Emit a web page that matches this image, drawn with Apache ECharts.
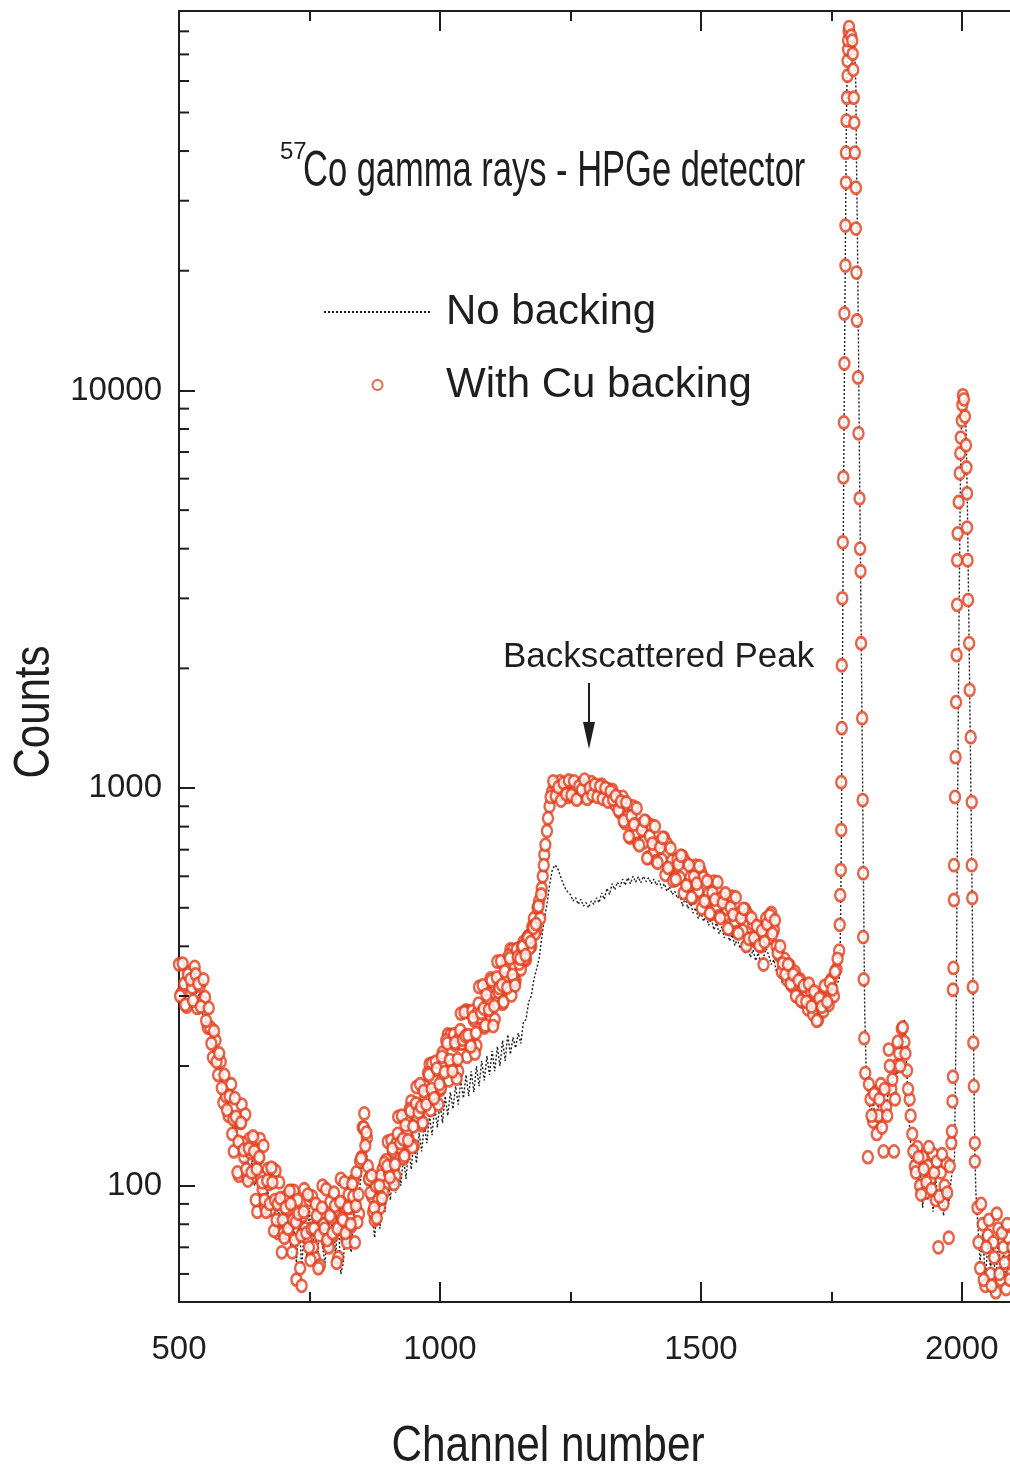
<!DOCTYPE html>
<html><head><meta charset="utf-8">
<script src="https://cdn.jsdelivr.net/npm/echarts@6/dist/echarts.min.js"></script>
<style>html,body{margin:0;padding:0;background:#fff}#chart{width:1010px;height:1472px}</style>
</head><body><div id="chart"></div>
<script>
// ---------- DATA ----------
// "With Cu backing" (red circles), continuum, channels 500..1765 every 5 channels
const cuLowStart = 500;
const cuLow = [
  360, 305, 322, 282, 345, 315, 355, 280, 318, 290,
  298, 250, 250, 210, 232, 190, 205, 162, 168, 150,
  180, 122, 145, 106, 160, 118, 106, 131, 105, 131,
  86, 131, 98, 88, 110, 87, 110, 109, 76, 91,
  76, 94, 76, 97, 97, 58, 83, 56, 98, 74,
  92, 94, 66, 83, 63, 100, 76, 71, 91, 75,
  86, 66, 104, 80, 74, 95, 79, 103, 108, 85,
  118, 152, 132, 104, 94, 82, 100, 88, 110, 100,
  129, 109, 122, 106, 149, 125, 117, 146, 131, 163,
  126, 177, 150, 142, 178, 162, 202, 203, 171, 195,
  174, 216, 195, 240, 239, 201, 226, 194, 271, 228,
  276, 274, 230, 261, 225, 316, 267, 250, 311, 279,
  306, 262, 366, 307, 287, 354, 318, 393, 392, 328,
  395, 350, 410, 370, 425, 400, 470, 440, 520, 560,
  680, 780, 900, 980, 1020, 960, 1040, 975, 1010, 950,
  1030, 965, 1000, 945, 1025, 980, 1010, 950, 1035, 970,
  1005, 960, 1020, 975, 995, 940, 990, 910, 930, 870,
  950, 817, 848, 751, 899, 771, 725, 809, 730, 823,
  669, 805, 694, 656, 730, 660, 748, 724, 627, 657,
  595, 662, 595, 673, 653, 568, 596, 530, 638, 551,
  616, 596, 518, 543, 482, 582, 502, 476, 530, 478,
  497, 442, 533, 460, 435, 485, 438, 495, 481, 418,
  455, 412, 445, 400, 360, 470, 420, 485, 440, 400,
  380, 345, 372, 330, 358, 318, 345, 300, 330, 290,
  318, 278, 310, 270, 302, 262, 300, 275, 315, 285,
  330, 300, 350, 390
];
// second set of red circles in the continuum, channels 502..1762 every 5
const cuLowBStart = 502;
const cuLowB = [
  300, 362, 285, 340, 330, 292, 340, 322, 282, 330,
  260, 280, 228, 245, 205, 215, 176, 190, 155, 168,
  135, 166, 108, 144, 128, 151, 103, 121, 133, 92,
  117, 105, 126, 86, 101, 111, 77, 82, 102, 68,
  74, 87, 97, 68, 73, 92, 62, 84, 78, 95,
  65, 70, 90, 62, 85, 80, 98, 70, 83, 96,
  64, 90, 83, 102, 72, 88, 101, 72, 81, 115,
  140, 126, 112, 96, 86, 100, 92, 106, 96, 116,
  108, 130, 101, 128, 125, 150, 119, 136, 156, 125,
  152, 149, 180, 144, 167, 192, 155, 170, 205, 160,
  176, 202, 232, 184, 200, 240, 186, 235, 228, 273,
  211, 230, 275, 215, 272, 265, 319, 253, 291, 332,
  252, 317, 307, 367, 290, 331, 379, 301, 329, 393,
  362, 398, 372, 420, 396, 448, 430, 500, 470, 600,
  720, 840, 950, 1040, 955, 1005, 930, 1030, 965, 1045,
  960, 1040, 935, 1010, 990, 1050, 940, 1000, 960, 1020,
  950, 1010, 940, 1000, 925, 980, 935, 955, 880, 925,
  827, 920, 756, 850, 810, 890, 718, 785, 828, 666,
  757, 725, 801, 649, 709, 750, 605, 630, 706, 585,
  589, 643, 676, 545, 569, 640, 531, 599, 575, 636,
  498, 519, 583, 484, 546, 524, 580, 471, 515, 543,
  443, 501, 480, 531, 431, 471, 497, 401, 418, 471,
  420, 450, 402, 438, 410, 455, 478, 430, 465, 385,
  400, 362, 340, 360, 322, 340, 300, 328, 292, 318,
  290, 322, 282, 308, 260, 296, 282, 318, 290, 325,
  312, 345, 372
];
// third set of red circles where the cloud is densest, channels 604..1199 every 5
const cuLowCStart = 604;
const cuLowC = [
  147, 149, 129, 144, 123, 110, 124, 108, 122, 110,
  118, 102, 92, 103, 90, 102, 92, 90, 93, 82,
  88, 78, 90, 82, 81, 85, 75, 86, 76, 70,
  78, 78, 84, 75, 88, 78, 73, 84, 76, 89,
  78, 91, 82, 76, 88, 80, 94, 89, 95, 117,
  140, 136, 104, 106, 88, 83, 100, 93, 114, 112,
  105, 124, 113, 135, 128, 131, 142, 130, 154, 141,
  161, 153, 158, 173, 160, 190, 175, 166, 197, 180,
  211, 193, 228, 207, 194, 229, 208, 246, 233, 238,
  239, 224, 265, 242, 287, 272, 279, 302, 277, 328,
  283, 334, 314, 320, 346, 315, 373, 339, 319, 376,
  372, 400, 380, 420, 410, 445, 455, 505, 540, 640
];
// first photopeak, red circles
const cuPeak1Ch = [1766,1767,1768,1769,1769,1770,1770,1771,1772,1773,1774,1775,1775,1777,1777,1778,1778,1779,1780,1781,1781,1782,1782,1783,1784,
  1788,1790,1791,1792,1793,1794,1795,1797,1797,1798,1799,1801,1802,1804,1805,1806,1807,1809,1810,1811,1811,1812,1813,1815];
const cuPeak1 = [453,538,622,784,1035,1415,2037,3000,4150,6045,8310,11690,15610,20610,25980,33320,39630,47700,54460,61860,67450,72000,76000,80000,82000,
  78000,75800,70270,64000,54460,47140,39630,32360,25530,19790,14990,10780,7800,5353,4000,3510,2313,1499,933,611,422,330,235,192];
// between the two peaks
const cuMidStart = 1820;
const cuMid = [118, 165, 145, 172, 150, 180, 122, 158, 220, 175, 122, 200, 215, 248, 230, 195, 165,
  135, 112, 125, 100, 118, 96, 112, 104, 120, 92, 70, 108, 90, 114, 74, 128];
const cuMidBStart = 1822;
const cuMidB = [180, 150, 170, 135, 165, 140, 175, 150, 200, 185, 165, 230, 200, 250, 215, 175,
  150, 122, 108, 118, 95, 110, 102, 125, 98, 108, 115, 94, 120, 100, 96, 112];
// second photopeak, red circles
const cuPeak2Ch = [1981,1982,1983,1983,1984,1985,1985,1987,1988,1989,1990,1991,1991,1992,1994,1996,1997,1998,2000,2001,2002,
  2004,2006,2008,2009,2010,2010,2011,2012,2014,2015,2017,2019,2019,2020,2021,2022,2023,2025,2025];
const cuPeak2 = [137,163,188,311,353,523,640,950,1196,1645,2160,2890,3740,4370,5240,6190,6950,7610,8400,9200,9720,
  9500,8600,7280,6400,5510,4520,3740,2970,2314,1764,1343,922,640,529,316,229,178,128,115];
// after the second peak
const cuHighStart = 2030;
const cuHigh = [88, 62, 80, 56, 75, 60, 72, 54, 78, 58, 70, 55, 74, 60, 66];
const cuHighBStart = 2032;
const cuHighB = [72, 90, 58, 70, 82, 56, 66, 85, 60, 76, 64, 80, 58, 70];

// "No backing" (black dotted line)
const nbLowStart = 500;
const nbLow = [
  310, 330, 295, 340, 320, 300, 335, 290, 310, 270,
  270, 245, 250, 215, 220, 190, 192, 165, 170, 148,
  150, 132, 140, 122, 130, 112, 122, 104, 116, 100,
  108, 94, 104, 88, 98, 84, 94, 80, 90, 76,
  86, 72, 82, 68, 80, 64, 84, 62, 78, 66,
  88, 66, 80, 62, 86, 70, 64, 82, 70, 88,
  66, 84, 60, 64, 86, 74, 68, 88, 80, 94,
  110, 138, 118, 96, 84, 74, 92, 78, 96, 86,
  105, 92, 110, 96, 114, 100, 118, 104, 124, 110,
  130, 114, 136, 122, 142, 128, 150, 134, 158, 140,
  162, 144, 168, 150, 172, 156, 178, 160, 184, 166,
  190, 168, 194, 172, 200, 178, 206, 184, 212, 190,
  218, 194, 224, 200, 232, 206, 240, 214, 236, 222,
  242, 228, 258, 262, 290, 300, 330, 350, 372, 420,
  470, 510, 570, 620, 640, 632, 605, 580, 560, 548,
  540, 520, 530, 510, 525, 505, 515, 500, 520, 510,
  530, 515, 545, 525, 560, 540, 575, 555, 580, 565,
  590, 570, 595, 575, 600, 580, 598, 578, 600, 582,
  595, 575, 590, 570, 585, 560, 575, 550, 565, 540,
  550, 528, 540, 505, 530, 498, 515, 485, 500, 470,
  488, 462, 480, 452, 470, 440, 458, 430, 448, 420,
  438, 412, 428, 402, 418, 395, 410, 385, 400, 375,
  392, 368, 385, 360, 375, 395, 380, 360, 370, 345,
  352, 325, 340, 312, 330, 302, 318, 292, 308, 285,
  300, 278, 292, 270, 288, 265, 285, 270, 295, 280,
  305, 290, 320, 330
];
const nbPeak1Ch = [1767,1769,1771,1773,1775,1777,1779,1781,1784,1789,1794,1797,1798,1800,1802,1804,1807,1810,1812,1814,1817];
const nbPeak1 = [390,700,1800,4500,11000,24000,50000,72000,82000,81000,76000,58000,40000,24000,13000,6500,2600,1000,500,270,190];
const nbMidStart = 1820;
const nbMid = [175, 150, 165, 140, 160, 138, 162, 145, 185, 170, 200, 185, 230, 215, 262, 190, 140,
  110, 122, 95, 112, 88, 108, 92, 110, 86, 104, 90, 100, 84, 98, 90, 105];
const nbPeak2Ch = [1986,1989,1991,1993,1995,1997,1999,2001,2004,2007,2009,2011,2013,2015,2017,2019,2021,2023,2025,2027];
const nbPeak2 = [118,250,600,1400,3000,5500,8000,9700,9800,9000,7000,4800,3000,1800,1100,650,380,200,120,96];
const nbHighStart = 2030;
const nbHigh = [82, 64, 76, 58, 72, 62, 70, 57, 74, 60, 68, 56, 70, 60, 64];

// axis ticks / labels
const xTickLabels = [500, 1000, 1500, 2000];
const yMinorTicks = [60, 70, 80, 90, 200, 300, 400, 500, 600, 700, 800, 900,
  2000, 3000, 4000, 5000, 6000, 7000, 8000, 9000,
  20000, 30000, 40000, 50000, 60000, 70000, 80000];

// ---------- BUILD ----------
const STEP = 5;
const stepPairs = (start, vals) => vals.map((v, i) => [start + i * STEP, v]);
const zipPairs = (ch, vals) => ch.map((c, i) => [c, vals[i]]);

const cuData = [].concat(
  stepPairs(cuLowStart, cuLow), stepPairs(cuLowBStart, cuLowB), stepPairs(cuLowCStart, cuLowC),
  zipPairs(cuPeak1Ch, cuPeak1),
  stepPairs(cuMidStart, cuMid), stepPairs(cuMidBStart, cuMidB),
  zipPairs(cuPeak2Ch, cuPeak2),
  stepPairs(cuHighStart, cuHigh), stepPairs(cuHighBStart, cuHighB));
const nbData = [].concat(stepPairs(nbLowStart, nbLow), zipPairs(nbPeak1Ch, nbPeak1),
  stepPairs(nbMidStart, nbMid), zipPairs(nbPeak2Ch, nbPeak2), stepPairs(nbHighStart, nbHigh));

const SANS = "'Liberation Sans',Arial,Helvetica,sans-serif";
const INK = '#1e1e1e';
const RED = '#e23c1a';

const xBase = {
  type: 'value', min: 500, max: 2100, interval: 500,
  axisLine: { show: true, onZero: false, lineStyle: { color: INK, width: 2 } },
  axisTick: { show: true, inside: true, length: 20, lineStyle: { color: INK, width: 2 } },
  minorTick: { show: true, splitNumber: 2, length: 10, lineStyle: { color: INK, width: 2 } },
  splitLine: { show: false }, minorSplitLine: { show: false }
};

const chart = echarts.init(document.getElementById('chart'));
chart.setOption({
  animation: false,
  backgroundColor: '#fff',
  grid: { left: 179, top: 11, width: 835, height: 1291, outerBoundsMode: 'none', containLabel: false },
  xAxis: [
    Object.assign({}, xBase, { position: 'bottom',
      axisLabel: { show: true, margin: 31, fontSize: 33, fontFamily: SANS, color: INK,
        formatter: v => xTickLabels.indexOf(Math.round(v)) >= 0 ? String(Math.round(v)) : '' } }),
    Object.assign({}, xBase, { position: 'top', axisLabel: { show: false } })
  ],
  yAxis: {
    type: 'log', logBase: 10, min: 51, max: 90000,
    axisLine: { show: true, onZero: false, lineStyle: { color: INK, width: 2 } },
    axisTick: { show: true, inside: true, length: 16, lineStyle: { color: INK, width: 2 } },
    splitLine: { show: false },
    axisLabel: { margin: 17, fontSize: 33, fontFamily: SANS, color: INK,
      formatter: v => { const l = Math.log10(v); return Math.abs(l - Math.round(l)) < 1e-6 ? String(Math.round(v)) : ''; } }
  },
  legend: {
    data: [{ name: 'No backing', itemStyle: { opacity: 0 } }, 'With Cu backing'],
    orient: 'vertical', left: 323, top: 287, padding: 0,
    itemWidth: 107, itemHeight: 10, itemGap: 23, selectedMode: false,
    textStyle: { fontSize: 42, fontFamily: SANS, color: INK, lineHeight: 50, padding: [0, 0, 0, 10] }
  },
  series: [
    { name: 'No backing', type: 'line', data: nbData, symbol: 'none', z: 2,
      lineStyle: { color: INK, width: 1.4, type: [2, 2] }, itemStyle: { color: INK } },
    { name: 'With Cu backing', type: 'scatter', data: cuData, symbol: 'circle', symbolSize: [10, 12], z: 3,
      itemStyle: { color: '#ffffff', borderColor: RED, borderWidth: 2.6 } },
    { type: 'custom', silent: true, z: 5, data: yMinorTicks.map(v => [500, v]),
      renderItem: (params, api) => {
        const p = api.coord([500, api.value(1)]);
        return { type: 'line', shape: { x1: p[0], y1: p[1], x2: p[0] + 10, y2: p[1] },
          style: { stroke: INK, lineWidth: 2 } };
      } }
  ],
  graphic: [
    { type: 'text', x: 280, y: 152, style: { text: '57', fontSize: 24, fontFamily: SANS, fill: INK, align: 'left', verticalAlign: 'middle' } },
    { type: 'text', x: 303, y: 172, scaleX: 0.69, style: { text: 'Co gamma rays - HPGe detector', fontSize: 50, fontFamily: SANS, fill: INK, align: 'left', verticalAlign: 'middle' } },
    { type: 'text', x: 503, y: 657, style: { text: 'Backscattered Peak', fontSize: 35, fontFamily: SANS, fill: INK, align: 'left', verticalAlign: 'middle' } },
    { type: 'line', shape: { x1: 589, y1: 683, x2: 589, y2: 726 }, style: { stroke: INK, lineWidth: 2 } },
    { type: 'polygon', shape: { points: [[583, 722], [595, 722], [589, 749]] }, style: { fill: INK } },
    { type: 'text', x: 548, y: 1447, scaleX: 0.847, style: { text: 'Channel number', fontSize: 50, fontFamily: SANS, fill: INK, align: 'center', verticalAlign: 'middle' } },
    { type: 'text', x: 35, y: 712, rotation: Math.PI / 2, scaleX: 0.84, style: { text: 'Counts', fontSize: 50, fontFamily: SANS, fill: INK, align: 'center', verticalAlign: 'middle' } }
  ]
});
</script></body></html>
